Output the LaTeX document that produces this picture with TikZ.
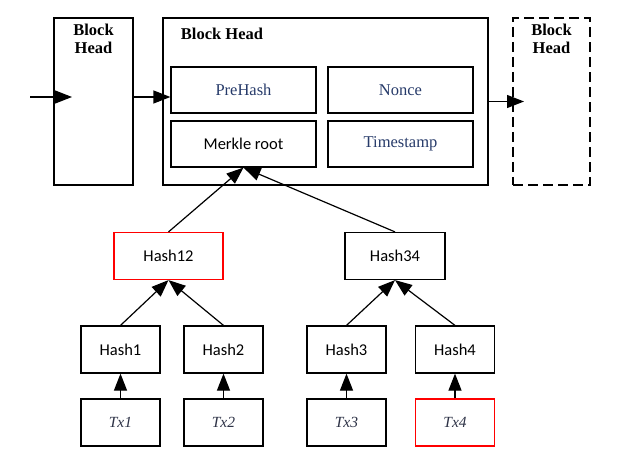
\documentclass[tikz,border=0pt]{standalone}
\usepackage{fontspec}
\setmainfont{Liberation Serif}
\newfontfamily\hashfont{Carlito}
\usetikzlibrary{arrows.meta}

\definecolor{fieldblue}{RGB}{38,58,105}
\definecolor{txgray}{RGB}{45,50,70}

\tikzset{
	box/.style={draw, line width=1.2pt, inner sep=0pt},
	block/.style={box, minimum width=79pt, minimum height=167pt},
	field/.style={box, minimum width=145pt, minimum height=46pt, text=fieldblue, font=\fontsize{16.5}{18}\selectfont},
	hashbox/.style={box, minimum width=79pt, minimum height=47pt, font=\hashfont\fontsize{16.5}{18}\selectfont},
	txbox/.style={box, minimum width=79pt, minimum height=47pt, text=txgray, font=\itshape\fontsize{15.5}{18}\selectfont},
	headtext/.style={font=\bfseries\fontsize{16.5}{18}\selectfont, align=center},
	link/.style={line width=1.2pt, -{Triangle[length=17pt,width=13pt]}}
}

\begin{document}
\begin{tikzpicture}[x=1pt, y=-1pt]

	\useasboundingbox (0,0) rectangle (644,462);

% Define blocks.

	%chain
	\node[block] (blockPrev) at (93.5,101.5) {};
	\node[block, minimum width=325pt] (blockCur) at (325.5,101.5) {};
	\node[block, minimum width=77pt, dash pattern=on 10pt off 5pt] (blockNext) at (551.5,101.5) {};

	\node[headtext] (headPrev) at (93.5,39) {Block\\Head};
	\node[headtext] (headCur) at (222,34) {Block Head};
	\node[headtext] (headNext) at (551.5,39) {Block\\Head};

	%fields of the block head
	\node[field] (prehash) at (243.5,90) {PreHash};
	\node[field] (nonce) at (400.5,90) {Nonce};
	\node[field, text=black, font=\hashfont\fontsize{16.5}{18}\selectfont] (merkle) at (243.5,144) {Merkle root};
	\node[field] (timestamp) at (400.5,144) {Timestamp};

% Define tree.

	\node[hashbox, minimum width=109pt, draw=red] (hash12) at (168.5,256) {Hash12};
	\node[hashbox, minimum width=100pt] (hash34) at (395,256) {Hash34};

	\node[hashbox] (hash1) at (120.5,349.5) {Hash1};
	\node[hashbox] (hash2) at (223.5,349.5) {Hash2};
	\node[hashbox] (hash3) at (346.5,349.5) {Hash3};
	\node[hashbox] (hash4) at (455,349.5) {Hash4};

	\node[txbox] (tx1) at (120.5,422.5) {Tx1};
	\node[txbox] (tx2) at (223.5,422.5) {Tx2};
	\node[txbox] (tx3) at (346.5,422.5) {Tx3};
	\node[txbox, draw=red] (tx4) at (455,422.5) {Tx4};

	%free ends of the chain arrows
	\coordinate (chainIn) at (30,97);
	\coordinate (chainInTip) at (72,97);
	\coordinate (chainOutTip) at (524,101.5);

% Draw chain arrows.

	\draw[link] (chainIn) -- (chainInTip);
	\draw[link] (blockPrev.east |- chainIn) -- (prehash.west |- chainIn);
	\draw[link] (blockCur.east) -- (chainOutTip);

% Draw tree arrows.

	\draw[link] (hash12.north) -- (merkle.south);
	\draw[link] (hash34.north) -- (merkle.south);

	\draw[link] (hash1.north) -- (hash12.south);
	\draw[link] (hash2.north) -- (hash12.south);
	\draw[link] (hash3.north) -- (hash34.south);
	\draw[link] (hash4.north) -- (hash34.south);

	\draw[link] (tx1) -- (hash1);
	\draw[link] (tx2) -- (hash2);
	\draw[link] (tx3) -- (hash3);
	\draw[link] (tx4) -- (hash4);

\end{tikzpicture}
\end{document}
